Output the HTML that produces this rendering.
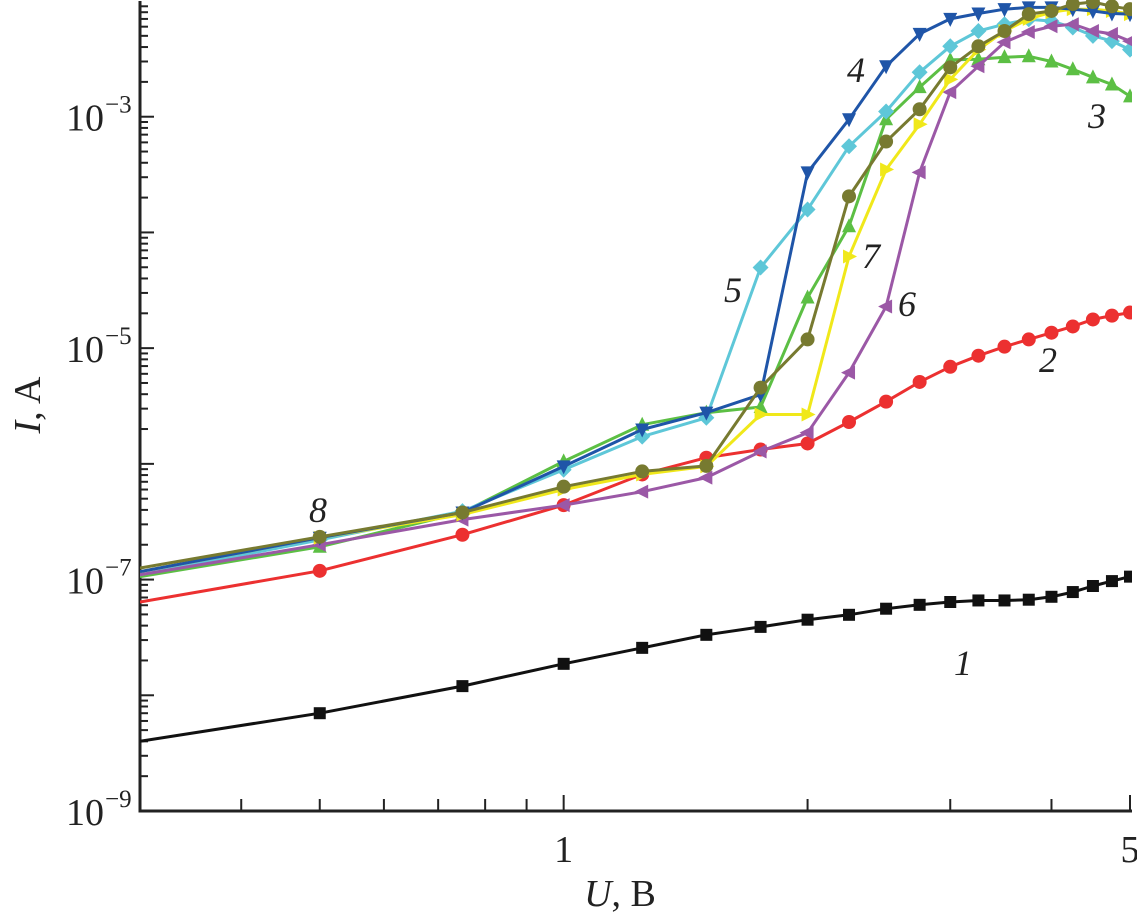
<!DOCTYPE html>
<html><head><meta charset="utf-8"><style>
html,body{margin:0;padding:0;background:#fff;}
svg{display:block;}
svg text{font-family:"Liberation Serif","Times New Roman",serif;}
</style></head><body>
<svg id="chart" width="1137" height="918" viewBox="0 0 1137 918" xmlns="http://www.w3.org/2000/svg">
<defs><clipPath id="plotclip"><rect x="140" y="0" width="992" height="812"/></clipPath></defs>
<g id="axes"></g>
<g id="series" clip-path="url(#plotclip)"></g>
<g id="labels"></g>
</svg>
<script>
const voltages = [0.3,0.5,0.75,1,1.25,1.5,1.75,2,2.25,2.5,2.75,3,3.25,3.5,3.75,4,4.25,4.5,4.75,5];
const current1 = [4.0e-9,7.0e-9,1.2e-8,1.87e-8,2.57e-8,3.33e-8,3.9e-8,4.5e-8,4.96e-8,5.6e-8,6.05e-8,6.4e-8,6.6e-8,6.6e-8,6.7e-8,7.1e-8,7.8e-8,8.8e-8,9.7e-8,1.06e-7];
const current2 = [6.4e-8,1.19e-7,2.44e-7,4.4e-7,8.1e-7,1.13e-6,1.33e-6,1.5e-6,2.3e-6,3.45e-6,5.1e-6,6.9e-6,8.6e-6,1.03e-5,1.19e-5,1.36e-5,1.54e-5,1.77e-5,1.91e-5,2.03e-5];
const current3 = [1.06e-7,1.92e-7,3.8e-7,1.05e-6,2.18e-6,2.77e-6,3.1e-6,2.74e-5,1.13e-4,9.5e-4,1.8e-3,3.1e-3,3.14e-3,3.27e-3,3.33e-3,3.0e-3,2.57e-3,2.19e-3,1.9e-3,1.5e-3];
const current4 = [1.17e-7,2.3e-7,3.8e-7,9.5e-7,1.98e-6,2.77e-6,3.97e-6,3.3e-4,9.5e-4,2.73e-3,5.2e-3,7.0e-3,7.8e-3,8.5e-3,8.8e-3,8.8e-3,8.5e-3,8.2e-3,7.8e-3,7.7e-3];
const current5 = [1.1e-7,2.2e-7,3.9e-7,8.9e-7,1.72e-6,2.5e-6,4.98e-5,1.58e-4,5.55e-4,1.11e-3,2.42e-3,4.06e-3,5.5e-3,6.3e-3,6.95e-3,6.7e-3,5.9e-3,5.0e-3,4.5e-3,3.8e-3];
const current6 = [1.1e-7,2.0e-7,3.3e-7,4.4e-7,5.75e-7,7.6e-7,1.28e-6,1.86e-6,6.15e-6,2.29e-5,3.3e-4,1.63e-3,2.73e-3,4.4e-3,5.4e-3,6.05e-3,6.3e-3,5.5e-3,5.2e-3,4.5e-3];
const current7 = [1.17e-7,2.3e-7,3.64e-7,6.0e-7,8.1e-7,9.5e-7,2.67e-6,2.67e-6,6.2e-5,3.5e-4,8.6e-4,2.1e-3,3.8e-3,5.5e-3,7.0e-3,8.0e-3,8.5e-3,8.5e-3,8.2e-3,7.7e-3];
const current8 = [1.26e-7,2.34e-7,3.8e-7,6.35e-7,8.6e-7,9.6e-7,4.56e-6,1.19e-5,2.05e-4,6.1e-4,1.16e-3,2.67e-3,4.06e-3,5.5e-3,7.7e-3,8.2e-3,9.4e-3,9.8e-3,9.0e-3,8.5e-3];
const yTickExponents = [-9,-7,-5,-3];
const xTickLabels = ["1","5"];
const xTickValues = [1,5];

const NS="http://www.w3.org/2000/svg";
const FONT='"Liberation Serif","Times New Roman",serif';
const X0=140,X1=1130,Y0=811,Y1=1;
const xMin=0.3,xMax=5,yMin=-9,yMax=-2;
function xs(v){return X0+(Math.log10(v)-Math.log10(xMin))/(Math.log10(xMax)-Math.log10(xMin))*(X1-X0);}
function ys(v){return Y0-(Math.log10(v)-yMin)/(yMax-yMin)*(Y0-Y1);}
function mk(tag,attrs,parent){const e=document.createElementNS(NS,tag);for(const k in attrs)e.setAttribute(k,attrs[k]);if(tag==='text')e.setAttribute('font-family',FONT);parent.appendChild(e);return e;}

const axes=document.getElementById('axes');
let ax=mk('path',{d:`M${X0},${Y1} V${Y0} H${X1+2}`,fill:'none',stroke:'#222','stroke-width':3},axes);


for(let e=yMin;e<yMax;e++){
  for(let m=1;m<10;m++){
    const v=m*Math.pow(10,e);const y=ys(v);
    const len=(m===1)?14:8;
    const t=mk('line',{x1:X0,x2:X0+len,y1:y,y2:y,stroke:'#222','stroke-width':2},axes);
    
    
  }
}
yTickExponents.forEach(e=>{
  const y=ys(Math.pow(10,e));
  const t=mk('text',{x:104,y:y+14,'text-anchor':'end','font-size':38,fill:'#222'},axes);
  t.textContent='10';
  
  
  const s=mk('text',{x:105,y:y-4,'font-size':25,fill:'#222'},axes);
  s.textContent='\u2212'+Math.abs(e);
  
  
});
[0.4,0.5,0.6,0.7,0.8,0.9,1,2,3,4,5].forEach(v=>{
  const x=xs(v);const len=(v===1||v===5)?16:12;
  const t=mk('line',{x1:x,x2:x,y1:Y0,y2:Y0-len,stroke:'#222','stroke-width':2},axes);
  
  
});
xTickValues.forEach((v,i)=>{
  const t=mk('text',{x:xs(v),y:862,'text-anchor':'middle','font-size':38,fill:'#222'},axes);
  t.textContent=xTickLabels[i];
  
  
});
let xt=mk('text',{x:620,y:906,'text-anchor':'middle','font-size':38,fill:'#222'},axes);
xt.innerHTML='<tspan font-style="italic">U</tspan>, B';


let yt=mk('text',{x:0,y:0,'text-anchor':'middle','font-size':38,fill:'#222',transform:'translate(40,405) rotate(-90)'},axes);
yt.innerHTML='<tspan font-style="italic">I</tspan>, A';



const seriesList=[
 {name:'series-1',data:current1,color:'#111',marker:'square'},
 {name:'series-2',data:current2,color:'#ec3030',marker:'circle'},
 {name:'series-3',data:current3,color:'#5cbf44',marker:'up'},
 {name:'series-5',data:current5,color:'#5ec7d8',marker:'diamond'},
 {name:'series-6',data:current6,color:'#9b58a6',marker:'left'},
 {name:'series-7',data:current7,color:'#f0e81a',marker:'right'},
 {name:'series-4',data:current4,color:'#1f55a8',marker:'down'},
 {name:'series-8',data:current8,color:'#777a30',marker:'circle'}
];
const sg=document.getElementById('series');
function marker(g,type,x,y,c){
  const r=7;let e;
  if(type==='square')e=mk('rect',{x:x-6,y:y-6,width:12,height:12,fill:c},g);
  else if(type==='circle')e=mk('circle',{cx:x,cy:y,r:r,fill:c},g);
  else if(type==='diamond')e=mk('polygon',{points:`${x},${y-r-1} ${x+r+1},${y} ${x},${y+r+1} ${x-r-1},${y}`,fill:c},g);
  else if(type==='up')e=mk('polygon',{points:`${x},${y-r-1} ${x+r},${y+r-1} ${x-r},${y+r-1}`,fill:c},g);
  else if(type==='down')e=mk('polygon',{points:`${x},${y+r+1} ${x+r},${y-r+1} ${x-r},${y-r+1}`,fill:c},g);
  else if(type==='left')e=mk('polygon',{points:`${x-r-1},${y} ${x+r-1},${y-r} ${x+r-1},${y+r}`,fill:c},g);
  else e=mk('polygon',{points:`${x+r+1},${y} ${x-r+1},${y-r} ${x-r+1},${y+r}`,fill:c},g);
  
  
}
seriesList.forEach(s=>{
  const g=mk('g',{},sg);
  
  
  const pts=voltages.map((v,i)=>xs(v).toFixed(1)+','+ys(s.data[i]).toFixed(1)).join(' ');
  const l=mk('polyline',{points:pts,fill:'none',stroke:s.color,'stroke-width':3,'stroke-linejoin':'round'},g);
  
  
  voltages.forEach((v,i)=>{if(v>0.35)marker(g,s.marker,xs(v),ys(s.data[i]),s.color);});
});
const lab=document.getElementById('labels');
[['1',963,675],['2',1048,372],['3',1097,128],['4',856,82],['5',733,302],['6',907,316],['7',871,268],['8',318,522]].forEach(a=>{
  const t=mk('text',{x:a[1],y:a[2],'text-anchor':'middle','font-size':36,'font-style':'italic',fill:'#222'},lab);
  t.textContent=a[0];
  
  
});
</script>
</body></html>
